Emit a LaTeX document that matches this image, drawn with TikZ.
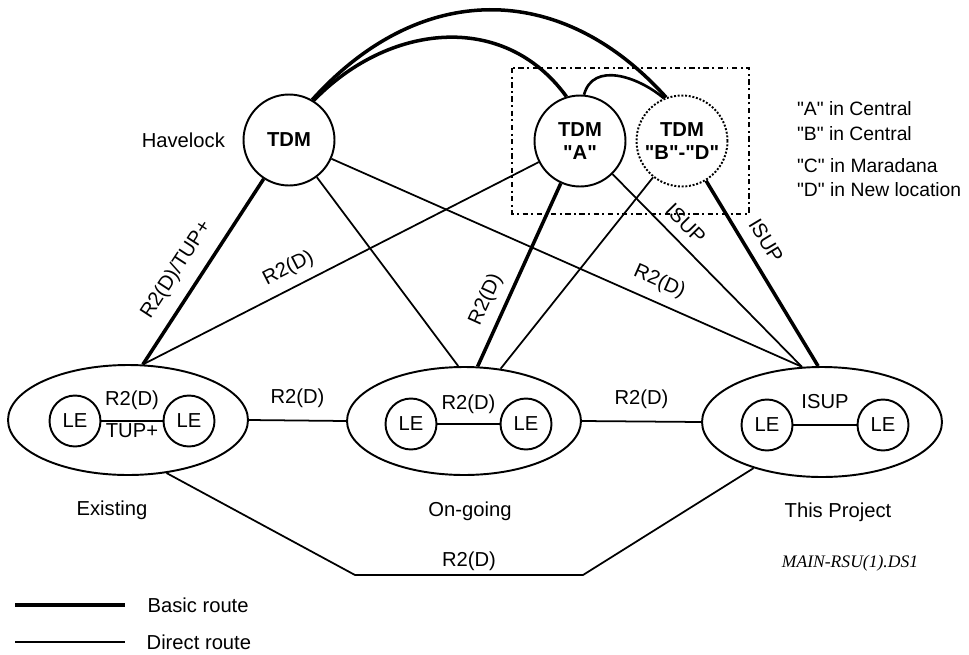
\documentclass[tikz,border=0pt]{standalone}
\usepackage{fontspec}
\setmainfont{Liberation Sans}
\newfontfamily\captionserif{Liberation Serif}
\usetikzlibrary{shapes.geometric, positioning}

\newcommand\dq[1]{\textquotedbl#1\textquotedbl}

\tikzset{
  tdm/.style={circle, draw, line width=1.1pt, minimum size=1.82cm, inner sep=0pt, align=center, font=\bfseries},
  le/.style={circle, draw, line width=1.1pt, minimum size=1.02cm, inner sep=0pt},
  area/.style={ellipse, draw, line width=1.1pt, minimum width=4.8cm, minimum height=2.2cm, inner sep=0pt},
  basic/.style={line width=2pt},
  direct/.style={line width=1pt},
  lbl/.style={inner sep=1pt},
  loc/.style={anchor=west, inner sep=1pt, font=\fontsize{11}{13}\selectfont}
}

\begin{document}
\fontsize{11.5}{13.5}\selectfont
\begin{tikzpicture}[x=0.02cm, y=0.02cm]
  \useasboundingbox (0,0) rectangle (969,654);

  % tandem exchanges
  \node[tdm] (hav) at (289,514) {TDM};
  \node[left=6pt of hav] (havname) {Havelock};
  \node[tdm] (tdma) at (580,513) {TDM\\\dq{A}};
  \node[tdm, densely dotted] (tdmb) at (682,513) {TDM\\\dq{B}-\dq{D}};
  \draw[line width=1.1pt, dash dot] (512,586) rectangle (749,440);

  \node[loc] (loca) at (795,545) {\dq{A} in Central};
  \node[loc] (locb) at (795,520) {\dq{B} in Central};
  \node[loc] (locc) at (795,488) {\dq{C} in Maradana};
  \node[loc] (locd) at (795,464) {\dq{D} in New location};

  % local exchange areas
  \node[area] (ex) at (128,234) {};
  \node[le] (exl) at (75,233) {LE};
  \node[le] (exr) at (189,233) {LE};
  \node[area, minimum width=4.68cm, minimum height=2.16cm] (og) at (464,233) {};
  \node[le] (ogl) at (411,230) {LE};
  \node[le] (ogr) at (526,230) {LE};
  \node[area] (tp) at (822,232) {};
  \node[le] (tpl) at (767,229) {LE};
  \node[le] (tpr) at (883,229) {LE};

  \node (exname) at (112,144) {Existing};
  \node (ogname) at (470,143) {On-going};
  \node (tpname) at (838,142) {This Project};
  \node[font=\captionserif\itshape\fontsize{10}{12}\selectfont] (dwg) at (850,91) {MAIN-RSU(1).DS1};

  % routes inside the areas
  \draw[direct] (exl) -- node[lbl, above=5pt]{R2(D)} node[lbl, below]{TUP+} (exr);
  \draw[direct] (ogl) -- node[lbl, above=4.5pt]{R2(D)} (ogr);
  \draw[direct] (tpl) -- node[lbl, above=7.5pt]{ISUP} (tpr);
  \draw[direct] (ex.east) -- node[lbl, above=6pt]{R2(D)} (og.west);
  \draw[direct] (og.east) -- node[lbl, above=6pt]{R2(D)} (tp.west);

  % routes to the tandems
  \draw[basic] (ex.75) -- node[lbl, pos=0.44, sloped, above=6pt]{R2(D)/TUP+} (hav);
  \draw[direct] (ex.75) -- node[lbl, pos=0.39, sloped, above=4pt]{R2(D)} (tdma);
  \draw[direct] (hav) -- (og.96);
  \draw[basic] (og.76) -- node[lbl, pos=0.32, sloped, above=4pt]{R2(D)} (tdma);
  \draw[direct] (og.55) -- (tdmb);
  \draw[direct] (hav) -- node[lbl, pos=0.68, sloped, above=4.5pt]{R2(D)} (tp.110);
  \draw[direct] (tdma) -- node[lbl, pos=0.32, sloped, above=4.5pt]{ISUP} (tp.110);
  \draw[basic] (tdmb) -- node[lbl, pos=0.38, sloped, above=5.5pt]{ISUP} (tp.94);

  % tandem to tandem
  \draw[basic] (hav.60) to[out=48, in=132, looseness=1.15] (tdmb.110);
  \draw[basic] (hav.58) to[out=46, in=126, looseness=1.08] (tdma.107);
  \draw[line width=1.5pt] (tdma.85) to[out=75, in=140, looseness=1.1] (tdmb.113);

  % direct route below
  \coordinate (b1) at (355,79);
  \coordinate (b2) at (583,79);
  \draw[direct] (ex.306) -- (b1) -- node[lbl, above=1pt]{R2(D)} (b2) -- (tp.214);

  % legend
  \coordinate (bs) at (15,49);
  \coordinate (be) at (125,49);
  \coordinate (ds) at (15,12);
  \coordinate (de) at (125,12);
  \draw[basic] (bs) -- (be) node[right=8pt] (basictxt) {Basic route};
  \draw[direct] (ds) -- (de) node[right=8pt] (directtxt) {Direct route};
\end{tikzpicture}
\end{document}
